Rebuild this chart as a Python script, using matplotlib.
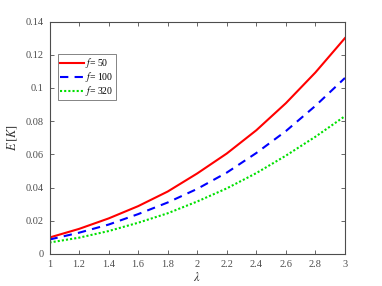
import matplotlib
matplotlib.use("Agg")
import matplotlib.pyplot as plt

plt.rcParams['font.family'] = ['Liberation Serif', 'DejaVu Serif']
plt.rcParams['mathtext.fontset'] = 'stix'

lam = [1.0, 1.2, 1.4, 1.6, 1.8, 2.0, 2.2, 2.4, 2.6, 2.8, 3.0]
ek_f50 = [0.0099, 0.0151, 0.0214, 0.0288, 0.0376, 0.0485, 0.0605, 0.0745, 0.0908, 0.1093, 0.1300]
ek_f100 = [0.0087, 0.0128, 0.0177, 0.0240, 0.0310, 0.0392, 0.0490, 0.0608, 0.0740, 0.0892, 0.1060]
ek_f320 = [0.0069, 0.0098, 0.0138, 0.0188, 0.0245, 0.0316, 0.0395, 0.0487, 0.0592, 0.0706, 0.0830]

xticks = [1, 1.2, 1.4, 1.6, 1.8, 2, 2.2, 2.4, 2.6, 2.8, 3]
xticklabels = ['1', '1.2', '1.4', '1.6', '1.8', '2', '2.2', '2.4', '2.6', '2.8', '3']
yticks = [0, 0.02, 0.04, 0.06, 0.08, 0.1, 0.12, 0.14]
yticklabels = ['0', '0.02', '0.04', '0.06', '0.08', '0.1', '0.12', '0.14']

fig = plt.figure(figsize=(3.82, 2.86), dpi=100)
ax = fig.add_axes([0.1296, 0.112, 0.7734, 0.8128])

ax.plot(lam, ek_f50, color='red', lw=1.5, ls='-', label='$f$= 50')
ax.plot(lam, ek_f100, color='blue', lw=1.5, ls=(0, (4, 3)), label='$f$= 100')
ax.plot(lam, ek_f320, color='#00e000', lw=1.5, ls=(0, (1, 1)), label='$f$= 320')

ax.set_xlim(1, 3)
ax.set_ylim(0, 0.14)
ax.set_xticks(xticks)
ax.set_xticklabels(xticklabels)
ax.set_yticks(yticks)
ax.set_yticklabels(yticklabels)

grey = '0.3'
for s in ax.spines.values():
    s.set_color(grey)
    s.set_linewidth(0.8)
ax.tick_params(direction='in', length=3, width=0.6, colors=grey, labelsize=7.5,
               top=True, right=True, pad=4)

ax.set_xlabel(r'$\lambda$', fontsize=9, color='0.2', labelpad=2)
ax.set_ylabel(r'$E\,[K]$', fontsize=9, color='0.2', labelpad=4)

leg = ax.legend(loc='upper left', bbox_to_anchor=(0.028, 0.86), fontsize=7,
                frameon=True, fancybox=False, handlelength=2.5, handletextpad=0.15,
                borderpad=0.2, labelspacing=0.0, borderaxespad=0)
leg.get_frame().set_edgecolor('0.3')
leg.get_frame().set_linewidth(0.6)

fig.savefig('out.png', dpi=100)
